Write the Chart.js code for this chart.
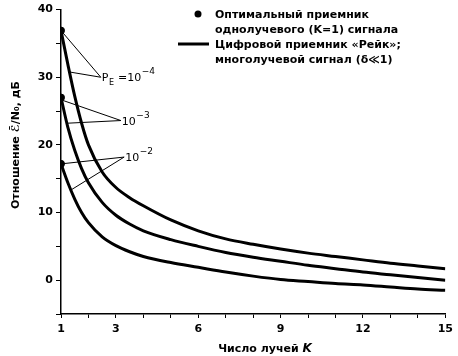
<!DOCTYPE html>
<html><head><meta charset="utf-8">
<script src="https://cdn.jsdelivr.net/npm/chart.js@4"></script>
<style>html,body{margin:0;padding:0;background:#fff;}#wrap{position:relative;width:458px;height:356px;}</style>
</head><body><div id="wrap"><canvas id="c" width="458" height="356"></canvas></div>
<script>
// ---- data ----
const kValues   = [1, 1.25, 1.5, 1.75, 2, 2.5, 3, 3.5, 4, 5, 6, 7, 8, 9, 10, 11, 12, 13, 14, 15];
const curvePe1e4 = [36.9, 31.9, 27.2, 23.2, 20.0, 16.0, 13.7, 12.2, 11.0, 8.9, 7.3, 6.1, 5.3, 4.6, 4.0, 3.5, 3.0, 2.5, 2.1, 1.7];
const curvePe1e3 = [27.0, 22.6, 19.2, 16.5, 14.4, 11.5, 9.6, 8.3, 7.3, 6.0, 5.0, 4.1, 3.4, 2.8, 2.2, 1.7, 1.2, 0.8, 0.4, 0.0];
const curvePe1e2 = [17.2, 14.4, 12.0, 10.0, 8.5, 6.4, 5.1, 4.2, 3.5, 2.6, 1.9, 1.2, 0.6, 0.1, -0.2, -0.5, -0.7, -1.0, -1.3, -1.5];
const optimalK   = [1, 1, 1];
const optimalVal = [36.9, 27.0, 17.2];
const xTickLabels = [1, 3, 6, 9, 12, 15];
const yTickLabels = [0, 10, 20, 30, 40];
const legendDot  = ['Оптимальный приемник', 'однолучевого (K=1) сигнала'];
const legendLine = ['Цифровой приемник «Рейк»;', 'многолучевой сигнал (δ≪1)'];
const xTitle = 'Число лучей ';
const xTitleVar = 'K';
const yTitle = 'Отношение ℰ̄/N₀, дБ';
// annotation labels: anchor (k, dB) and leader targets (k, dB)
const peLabels = [
  {parts:[['P',''],['E','sub'],[' =10',''],['−4','sup']], at:[2.45, 30.0], to:[[1, 36.9],[1.28, 30.8]]},
  {parts:[['10',''],['−3','sup']], at:[3.18, 23.6], to:[[1.05, 26.6],[1.21, 23.2]]},
  {parts:[['10',''],['−2','sup']], at:[3.3, 18.2], to:[[1.02, 17.2],[1.35, 13.3]]}
];

const FONT = '"DejaVu Sans", sans-serif';
const toPts = arr => kValues.map((k, i) => ({x: k, y: arr[i]}));
const lineDs = (label, arr) => ({label, data: toPts(arr), borderColor:'#000', borderWidth:3,
  pointRadius:0, fill:false, cubicInterpolationMode:'monotone'});

const overlay = {
  id: 'overlay',
  afterDatasetsDraw(chart) {
    const {ctx, chartArea: a, scales: {x, y}} = chart;
    ctx.save();
    ctx.fillStyle = '#000'; ctx.strokeStyle = '#000';
    // leader lines & labels
    peLabels.forEach(l => {
      const ox = x.getPixelForValue(l.at[0]), oy = y.getPixelForValue(l.at[1]);
      ctx.lineWidth = 1;
      l.to.forEach(t => {
        ctx.beginPath(); ctx.moveTo(ox, oy);
        ctx.lineTo(x.getPixelForValue(t[0]), y.getPixelForValue(t[1])); ctx.stroke();
      });
      let cx = ox + 1;
      ctx.textBaseline = 'alphabetic'; ctx.textAlign = 'left';
      l.parts.forEach(([t, kind]) => {
        let dy = 4;
        if (kind === 'sub') { ctx.font = '8px ' + FONT; dy = 8; }
        else if (kind === 'sup') { ctx.font = '9px ' + FONT; dy = -3; }
        else ctx.font = '11px ' + FONT;
        ctx.fillText(t, cx, oy + dy);
        cx += ctx.measureText(t).width + (kind === 'sup' ? 0 : 0.5);
      });
    });
    // legend
    const lx = 215;
    ctx.font = 'bold 11px ' + FONT;
    ctx.beginPath(); ctx.arc(198, 14, 3.5, 0, Math.PI * 2); ctx.fill();
    ctx.fillText(legendDot[0], lx, 18);
    ctx.fillText(legendDot[1], lx, 33);
    ctx.lineWidth = 3;
    ctx.beginPath(); ctx.moveTo(178, 44); ctx.lineTo(209, 44); ctx.stroke();
    ctx.fillText(legendLine[0], lx, 48);
    ctx.fillText(legendLine[1], lx, 63);
    // x title
    ctx.font = 'bold 11px ' + FONT;
    const w1 = ctx.measureText(xTitle).width;
    ctx.font = 'bold italic 12px ' + FONT;
    const w2 = ctx.measureText(xTitleVar).width;
    let sx = 265 - (w1 + w2) / 2;
    ctx.font = 'bold 11px ' + FONT;
    ctx.fillText(xTitle, sx, 352);
    ctx.font = 'bold italic 12px ' + FONT;
    ctx.fillText(xTitleVar, sx + w1, 352);
    // y title
    ctx.translate(16, 145); ctx.rotate(-Math.PI / 2);
    ctx.textAlign = 'center'; ctx.textBaseline = 'middle';
    ctx.font = 'bold 11px ' + FONT;
    ctx.fillText(yTitle, 0, 0);
    ctx.restore();
  }
};

new Chart(document.getElementById('c'), {
  type: 'line',
  data: {
    datasets: [
      lineDs('Pe=1e-4', curvePe1e4),
      lineDs('Pe=1e-3', curvePe1e3),
      lineDs('Pe=1e-2', curvePe1e2),
      {type:'scatter', label:'K=1', data: optimalK.map((k, i) => ({x:k, y:optimalVal[i]})),
       pointRadius:3.5, pointBackgroundColor:'#000', pointBorderColor:'#000', showLine:false}
    ]
  },
  options: {
    responsive: false, animation: false,
    layout: {padding: {top: 8, right: 12, left: 0, bottom: 0}},
    plugins: {legend: {display: false}, tooltip: {enabled: false}},
    scales: {
      x: {
        type: 'linear', min: 1, max: 15,
        afterBuildTicks: s => { s.ticks = kValues.filter(v => Number.isInteger(v)).map(v => ({value: v})); },
        afterFit: s => { s.height = 42; },
        ticks: {autoSkip: false, maxRotation: 0, color: '#000', padding: 5,
          font: {family: FONT, size: 11, weight: 'bold'},
          callback: v => xTickLabels.includes(v) ? String(v) : ''},
        grid: {drawOnChartArea: false, color: '#000', tickLength: 4, lineWidth: 1},
        border: {color: '#000', width: 1.5}
      },
      y: {
        min: -5, max: 40,
        afterFit: s => { s.width = 61; },
        ticks: {stepSize: 5, color: '#000', padding: 3,
          font: {family: FONT, size: 11, weight: 'bold'},
          callback: v => yTickLabels.includes(v) ? String(v) : ''},
        grid: {drawOnChartArea: false, color: '#000', tickLength: 5, lineWidth: 1},
        border: {color: '#000', width: 1.5}
      }
    }
  },
  plugins: [overlay]
});
</script></body></html>
